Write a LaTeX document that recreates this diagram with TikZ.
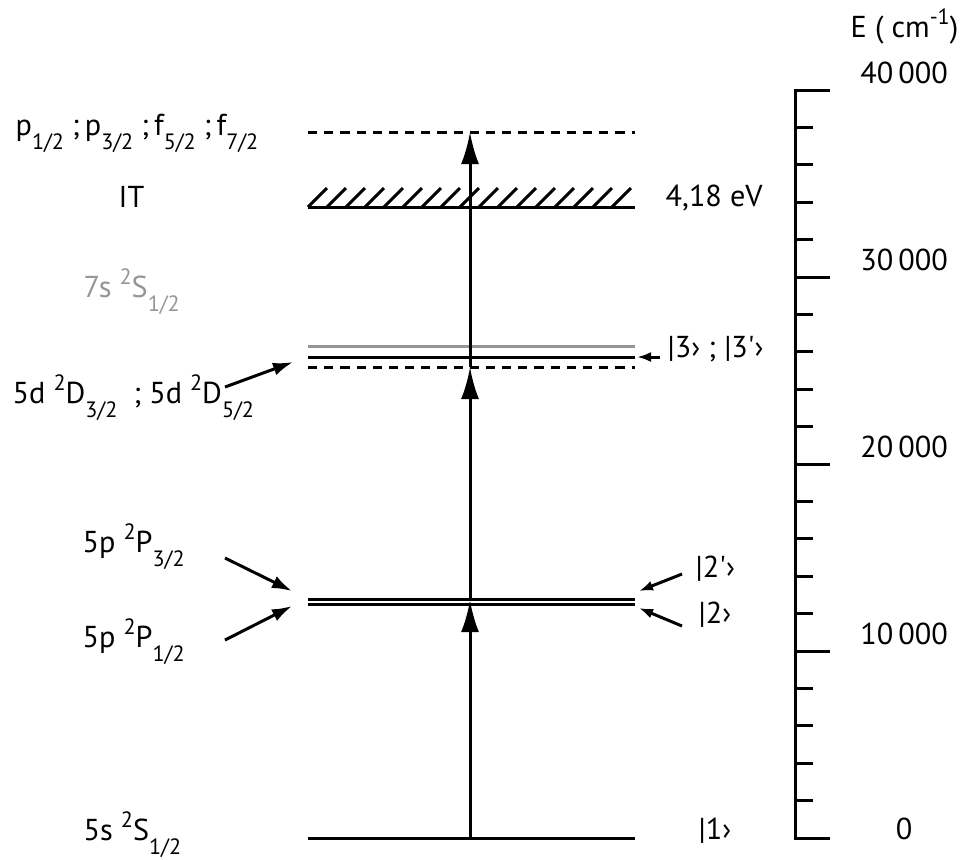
\documentclass[tikz,border=0pt]{standalone}
\usepackage{fontspec}
\setmainfont{PT Sans}
\usetikzlibrary{arrows.meta}
\definecolor{levelgray}{RGB}{150,150,150}
\newcommand{\lo}[1]{\raisebox{-4.2pt}{\fontsize{6.3}{7}\selectfont #1}}
\newcommand{\hi}[1]{\raisebox{3.6pt}{\fontsize{6.3}{7}\selectfont #1}}

\begin{document}
\begin{tikzpicture}[x=0.01cm, y=-0.01cm, >=Latex,
  font=\fontsize{8.6}{10}\selectfont,
  level/.style={line width=0.85pt},
  dashlevel/.style={line width=0.85pt, dash pattern=on 2.6pt off 2pt},
  pump/.style={line width=0.85pt, -{Latex[length=0.32cm, width=0.18cm]}},
  pointer/.style={line width=0.85pt, -{Latex[length=0.2cm, width=0.13cm]}},
  smallpointer/.style={line width=0.85pt, -{Latex[length=0.14cm, width=0.1cm]}},
  txt/.style={anchor=base west, inner sep=0pt}]
\useasboundingbox (0,0) rectangle (962,859);

% energy levels
\draw[level] (308,838) -- (635,838);
\draw[level] (308,599) -- (635,599);
\draw[level] (308,604) -- (635,604);
\draw[dashlevel] (308,367) -- (635,367);
\draw[level] (308,357) -- (635,357);
\draw[level, levelgray] (308,346) -- (635,346);
\draw[level] (308,207) -- (635,207);
\foreach \i in {0,...,16}
  \draw[level] ({308+19*\i},207) -- ++(19,-19);
\draw[dashlevel] (308,132) -- (635,132);

% excitation steps
\coordinate (exc0) at (470,838);
\coordinate (exc1) at (470,600);
\coordinate (exc2) at (470,367);
\coordinate (exc3) at (470,132);
\draw[pump] (exc0) -- (exc1);
\draw[pump] (exc1) -- (exc2);
\draw[pump] (exc2) -- (exc3);

% level names
\node[txt] (lblpf) at (15,135) {p\lo{1/2}\ ;\,p\lo{3/2}\ ;\,f\lo{5/2}\ ;\,f\lo{7/2}};
\node[txt] (lblit) at (118,207) {IT};
\node[txt, text=levelgray] (lbl7s) at (83,297) {7s \hi{2}S\lo{1/2}};
\node[txt] (lbl5d) at (12,403) {5d \hi{2}D\lo{3/2}\ \ ; 5d \hi{2}D\lo{5/2}};
\node[txt] (lbl5p3) at (82,552) {5p \hi{2}P\lo{3/2}};
\node[txt] (lbl5p1) at (82,647) {5p \hi{2}P\lo{1/2}};
\node[txt] (lbl5s) at (83,840) {5s \hi{2}S\lo{1/2}};

\coordinate (d-from) at (225,387);  \coordinate (d-to) at (293,362);
\coordinate (p3-from) at (225,558); \coordinate (p3-to) at (292,591);
\coordinate (p1-from) at (225,640); \coordinate (p1-to) at (292,606);
\draw[pointer] (d-from) -- (d-to);
\draw[pointer] (p3-from) -- (p3-to);
\draw[pointer] (p1-from) -- (p1-to);

% states
\node[txt] (lblion) at (665,206) {4,18 eV};
\node[txt] (ket3) at (667,357) {|3› ; |3\textquotesingle›};
\node[txt] (ket2b) at (695,577) {|2\textquotesingle›};
\node[txt] (ket2a) at (698,623) {|2›};
\node[txt] (ket1) at (698,839) {|1›};

\coordinate (k3-from) at (660,357);  \coordinate (k3-to) at (637,357);
\coordinate (k2b-from) at (682,574); \coordinate (k2b-to) at (639,591);
\coordinate (k2a-from) at (682,626); \coordinate (k2a-to) at (639,608);
\draw[smallpointer] (k3-from) -- (k3-to);
\draw[smallpointer] (k2b-from) -- (k2b-to);
\draw[smallpointer] (k2a-from) -- (k2a-to);

% energy scale
\draw[level] (830,90) -- (795,90) -- (795,838) -- (830,838);
\foreach \i in {1,...,19} {
  \pgfmathsetmacro{\tl}{mod(\i,5)==0 ? 35 : 18}
  \draw[level] (795,{838-37.4*\i}) -- ++(\tl,0);
}
\node[txt] (eunit) at (850,37) {E ( cm\hi{-1})};
\node[anchor=base, inner sep=0pt] (e40) at (904,83) {40\,000};
\node[anchor=base, inner sep=0pt] (e30) at (904,270) {30\,000};
\node[anchor=base, inner sep=0pt] (e20) at (904,457) {20\,000};
\node[anchor=base, inner sep=0pt] (e10) at (904,644) {10\,000};
\node[anchor=base, inner sep=0pt] (e0) at (904,839) {0};
\end{tikzpicture}
\end{document}
